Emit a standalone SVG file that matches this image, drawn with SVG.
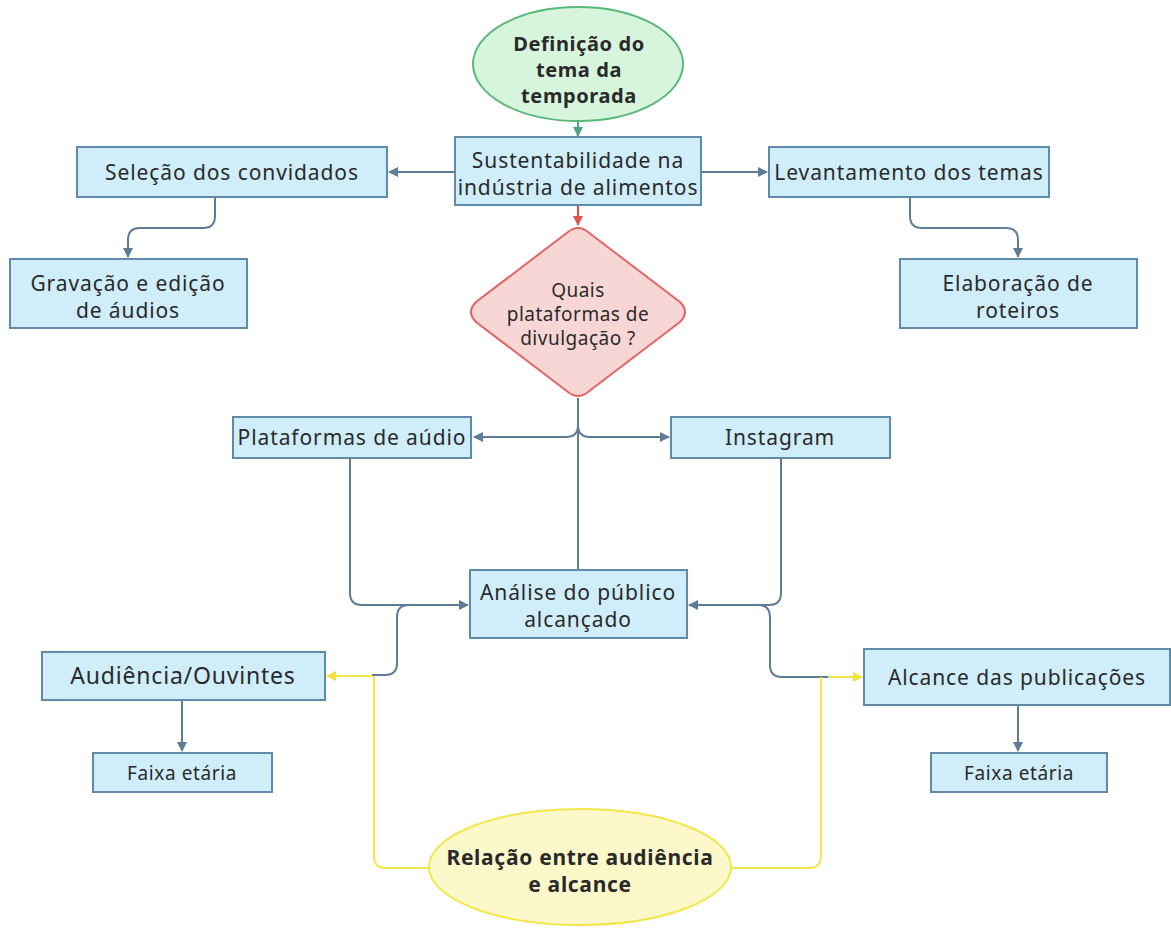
<svg xmlns="http://www.w3.org/2000/svg" width="1171" height="929" viewBox="0 0 1171 929">
<style>
.box{fill:#cfeefa;stroke:#5f8aa8;stroke-width:2}
.t{font-family:"Noto Sans","DejaVu Sans",sans-serif;font-size:21px;letter-spacing:0.9px;fill:#2a2a2a;text-anchor:middle}
.s{font-size:19px;letter-spacing:0.5px}
.b{font-weight:bold;font-size:20px;letter-spacing:0.6px}
.c{fill:none;stroke:#5f7c96;stroke-width:2}
.y{fill:none;stroke:#f3e64a;stroke-width:2}
</style>
<defs>
<marker id="ab" viewBox="0 0 10 10" refX="9" refY="5" markerWidth="5" markerHeight="5" orient="auto"><path d="M0,0L10,5L0,10z" fill="#5f7c96"/></marker>
<marker id="ag" viewBox="0 0 10 10" refX="9" refY="5" markerWidth="5" markerHeight="5" orient="auto"><path d="M0,0L10,5L0,10z" fill="#4fa28a"/></marker>
<marker id="ar" viewBox="0 0 10 10" refX="9" refY="5" markerWidth="5" markerHeight="5" orient="auto"><path d="M0,0L10,5L0,10z" fill="#e0504f"/></marker>
<marker id="ay" viewBox="0 0 10 10" refX="9" refY="5" markerWidth="5" markerHeight="5" orient="auto"><path d="M0,0L10,5L0,10z" fill="#f0e040"/></marker>
</defs>
<rect width="1171" height="929" fill="#ffffff"/>
<g id="connectors">
<path d="M578,122V136" stroke="#4fa28a" stroke-width="2" fill="none" marker-end="url(#ag)"/>
<path d="M578,205V225" stroke="#e0504f" stroke-width="2" fill="none" marker-end="url(#ar)"/>
<path class="c" d="M455,172H389" marker-end="url(#ab)"/>
<path class="c" d="M701,172H767" marker-end="url(#ab)"/>
<path class="c" d="M215,197V216Q215,228 203,228H140Q128,228 128,240V257" marker-end="url(#ab)"/>
<path class="c" d="M910,197V216Q910,228 922,228H1006Q1018,228 1018,240V257" marker-end="url(#ab)"/>
<path class="c" d="M578,398V570"/>
<path class="c" d="M578,425Q578,437 566,437H474" marker-end="url(#ab)"/>
<path class="c" d="M578,425Q578,437 590,437H669" marker-end="url(#ab)"/>
<path class="c" d="M350,458V593Q350,605 362,605H468" marker-end="url(#ab)"/>
<path class="c" d="M781,458V593Q781,605 769,605H689" marker-end="url(#ab)"/>
<path class="c" d="M409,605Q397,605 397,617V663Q397,675 385,675H372"/>
<path class="c" d="M758,605Q770,605 770,617V665Q770,677 782,677H828"/>
<path class="y" d="M372,676H327" marker-end="url(#ay)"/>
<path class="y" d="M828,677H862" marker-end="url(#ay)"/>
<path class="y" d="M374,676V856Q374,868 386,868H432"/>
<path class="y" d="M821,677V856Q821,868 809,868H725"/>
<path class="c" d="M182,700V751" marker-end="url(#ab)"/>
<path class="c" d="M1018,705V751" marker-end="url(#ab)"/>
</g>
<g id="n-definicao">
<ellipse cx="578" cy="64" rx="105" ry="57" fill="#d6f5dc" stroke="#5cb87a" stroke-width="2"/>
<text class="t b" x="579" y="51">Definição do</text>
<text class="t b" x="579" y="77">tema da</text>
<text class="t b" x="579" y="103">temporada</text>
</g>
<g id="n-sustentabilidade">
<rect class="box" x="455" y="137" width="246" height="68"/>
<text class="t" x="578" y="168">Sustentabilidade na</text>
<text class="t" x="578" y="195">indústria de alimentos</text>
</g>
<g id="n-selecao">
<rect class="box" x="77" y="147" width="310" height="50"/>
<text class="t" x="232" y="180">Seleção dos convidados</text>
</g>
<g id="n-levantamento">
<rect class="box" x="769" y="147" width="280" height="50"/>
<text class="t" x="909" y="180">Levantamento dos temas</text>
</g>
<g id="n-gravacao">
<rect class="box" x="10" y="259" width="237" height="69"/>
<text class="t" x="128" y="291">Gravação e edição</text>
<text class="t" x="128" y="318">de áudios</text>
</g>
<g id="n-elaboracao">
<rect class="box" x="900" y="259" width="237" height="69"/>
<text class="t" x="1018" y="291">Elaboração de</text>
<text class="t" x="1018" y="318">roteiros</text>
</g>
<g id="n-quais">
<path d="M568,232Q578,224 588,232L680,302Q690,312 680,322L588,392Q578,400 568,392L476,322Q466,312 476,302Z" fill="#f9d6d6" stroke="#e06666" stroke-width="2"/>
<text class="t s" x="578" y="297">Quais</text>
<text class="t s" x="578" y="321">plataformas de</text>
<text class="t s" x="578" y="345">divulgação ?</text>
</g>
<g id="n-plataformas">
<rect class="box" x="233" y="417" width="238" height="41"/>
<text class="t" x="352" y="445">Plataformas de aúdio</text>
</g>
<g id="n-instagram">
<rect class="box" x="671" y="417" width="219" height="41"/>
<text class="t" x="780" y="445">Instagram</text>
</g>
<g id="n-analise">
<rect class="box" x="470" y="570" width="217" height="68"/>
<text class="t" x="578" y="600">Análise do público</text>
<text class="t" x="578" y="627">alcançado</text>
</g>
<g id="n-audiencia">
<rect class="box" x="42" y="652" width="283" height="48"/>
<text class="t" x="183" y="684" style="font-size:23px;letter-spacing:0.8px">Audiência/Ouvintes</text>
</g>
<g id="n-alcance">
<rect class="box" x="864" y="649" width="306" height="56"/>
<text class="t" x="1017" y="685">Alcance das publicações</text>
</g>
<g id="n-faixa1">
<rect class="box" x="93" y="753" width="179" height="39"/>
<text class="t s" x="182" y="780" style="letter-spacing:0.6px">Faixa etária</text>
</g>
<g id="n-faixa2">
<rect class="box" x="931" y="753" width="176" height="39"/>
<text class="t s" x="1019" y="780" style="letter-spacing:0.6px">Faixa etária</text>
</g>
<g id="n-relacao">
<ellipse cx="580" cy="867" rx="151" ry="58" fill="#fdf8c9" stroke="#f3e64a" stroke-width="2"/>
<text class="t b" x="580" y="865" style="font-size:21px;letter-spacing:0.7px">Relação entre audiência</text>
<text class="t b" x="580" y="892" style="font-size:21px;letter-spacing:0.7px">e alcance</text>
</g>
</svg>
